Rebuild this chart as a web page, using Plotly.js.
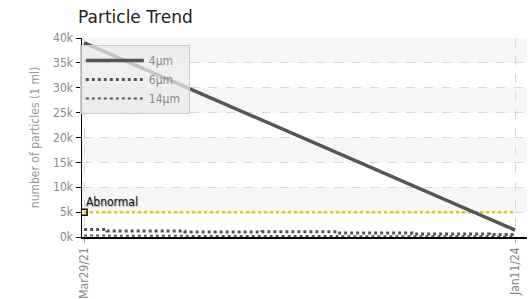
<!DOCTYPE html>
<html>
<head>
<meta charset="utf-8">
<script src="https://cdn.plot.ly/plotly-3.0.1.min.js"></script>
<style>
html,body{margin:0;padding:0;background:#fff;}
#chart{width:529px;height:299px;}
#chart .xtick text, #chart .ytick text, #chart .legendtext, #chart .g-ytitle text, #chart .annotation-text { font-stretch: condensed; }
</style>
</head>
<body>
<div id="chart"></div>
<script>
// ---- data ----
const seriesNames = ["4\u00b5m", "6\u00b5m", "14\u00b5m"];
const dates4 = ["2021-03-29", "2024-01-11"];
const values4 = [39000, 1400];
const datesSmall = ["2021-03-29", "2021-05-22", "2021-11-22", "2022-05-23", "2022-11-16", "2023-05-12", "2023-11-12", "2024-01-11"];
const values6 = [1500, 1200, 1000, 1050, 800, 600, 500, 500];
const values14 = [300, 250, 220, 200, 150, 150, 120, 100];
const thresholdDates = ["2021-03-29", "2024-01-11"];
const thresholdValue = [5000, 5000];
const thresholdLabel = "Abnormal";
const xTickVals = ["2021-03-29", "2024-01-11"];
const xTickText = ["Mar29/21", "Jan11/24"];
const yTickVals = [0, 5000, 10000, 15000, 20000, 25000, 30000, 35000, 40000];
const yTickText = ["0k", "5k", "10k", "15k", "20k", "25k", "30k", "35k", "40k"];

const narrow = "DejaVu Sans, sans-serif";

const traces = [
  {x: thresholdDates, y: thresholdValue, mode: "lines", showlegend: false, hoverinfo: "skip",
   line: {color: "#f2c200", width: 2.5, dash: "dot"}},
  {x: [thresholdDates[0]], y: [thresholdValue[0]], mode: "markers", showlegend: false, hoverinfo: "skip",
   marker: {symbol: "square-open", size: 6, color: "#111", line: {width: 1.5}}},
  {x: datesSmall, y: values14, name: seriesNames[2], mode: "lines", line: {color: "#555", width: 2, dash: "dot", shape: "hv"}},
  {x: datesSmall, y: values6, name: seriesNames[1], mode: "lines", line: {color: "#555", width: 3, dash: "dot", shape: "hv"}},
  {x: dates4, y: values4, name: seriesNames[0], mode: "lines", line: {color: "#555", width: 3.5}}
];

// alternating bands
const shapes = [];
for (let i = 0; i < yTickVals.length - 1; i++) {
  if (i % 2 === 1) {
    shapes.push({type: "rect", layer: "below", xref: "paper", yref: "y", x0: 0, x1: 1,
      y0: yTickVals[i], y1: yTickVals[i + 1], fillcolor: "#f6f6f6", line: {width: 0}});
  }
}

const layout = {
  width: 529, height: 299,
  margin: {l: 82, r: 2, t: 38, b: 62},
  paper_bgcolor: "#fff", plot_bgcolor: "#fff",
  title: {text: "Particle Trend", x: 78 / 529, xanchor: "left", xref: "container",
          y: 0.943, yanchor: "middle", yref: "container",
          font: {family: "DejaVu Sans, sans-serif", size: 17, color: "#222"}},
  xaxis: {type: "date", range: ["2021-03-24", "2024-02-08"],
          tickvals: xTickVals, ticktext: xTickText, tickangle: -90,
          tickfont: {family: narrow, size: 12, color: "#888"},
          showgrid: true, gridcolor: "#d8d8d8", griddash: "dash", gridwidth: 1,
          showline: true, linecolor: "#000", linewidth: 1.5,
          ticks: "outside", ticklen: 4, tickcolor: "#aaa", zeroline: false, fixedrange: true},
  yaxis: {range: [0, 40000], tickvals: yTickVals, ticktext: yTickText,
          tickfont: {family: narrow, size: 12, color: "#888"},
          title: {text: "number of particles (1 ml)", font: {family: narrow, size: 12, color: "#999"}, standoff: 8},
          showgrid: true, gridcolor: "#d8d8d8", griddash: "dash", gridwidth: 1,
          showline: true, linecolor: "#000", linewidth: 1.5,
          ticks: "outside", ticklen: 5, tickcolor: "#000", zeroline: false, fixedrange: true},
  shapes: shapes,
  annotations: [{x: thresholdDates[0], y: thresholdValue[0], xref: "x", yref: "y",
                 text: thresholdLabel, showarrow: false, xanchor: "left", yanchor: "bottom", xshift: -3, yshift: 1,
                 font: {family: narrow, size: 12, color: "#111", shadow: "1px 1px 1px #aaa"}}],
  legend: {x: -0.005, y: 0.965, xanchor: "left", yanchor: "top",
           bgcolor: "rgba(234,234,234,0.75)", bordercolor: "#ccc", borderwidth: 1,
           traceorder: "reversed", font: {family: narrow, size: 12, color: "#888"},
           tracegroupgap: 0, itemwidth: 58},
  showlegend: true
};

Plotly.newPlot("chart", traces, layout, {displayModeBar: false, staticPlot: true});
</script>
</body>
</html>
